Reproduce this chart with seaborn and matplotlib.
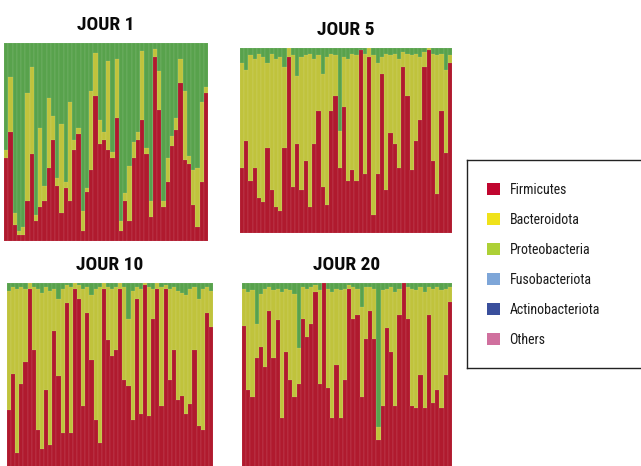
import numpy as np
import pandas as pd
import seaborn as sns
import matplotlib
matplotlib.use("Agg")
import matplotlib.pyplot as plt
from matplotlib.patches import Patch

sns.set_style("white")
plt.rcParams['font.family'] = ['Roboto Condensed', 'Roboto', 'DejaVu Sans']

# phyla shown in the legend
PHYLA = ["Firmicutes", "Bacteroidota", "Proteobacteria", "Fusobacteriota", "Actinobacteriota", "Others"]
LEGEND_COLORS = ["#c0062f", "#f0e21a", "#add036", "#7ea6d8", "#3a4f9c", "#d0709e"]
# colours as they appear in the bars (red / yellow / green layers)
BAR_COLORS = {"red": "#b01a2e", "yellow": "#c0c33c", "green": "#58a24c"}

# relative abundance (%) per sample, bottom -> top
jour1_red = [42, 55, 8, 3, 3, 20, 44, 10, 17, 20, 37, 51, 28, 14, 27, 20, 46, 54, 5, 25, 36, 73, 49, 51,
             46, 42, 62, 5, 20, 10, 42, 51, 61, 44, 12, 93, 66, 17, 30, 48, 56, 80, 41, 39, 18, 7, 30, 75]
jour1_yellow = [4, 28, 6, 2, 4, 55, 44, 3, 40, 8, 35, 12, 4, 45, 3, 50, 5, 3, 10, 2, 40, 22, 12, 4,
                45, 3, 30, 5, 4, 28, 8, 4, 35, 3, 8, 4, 20, 3, 12, 5, 6, 12, 35, 4, 18, 30, 40, 3]
jour1_green = [54, 17, 86, 95, 93, 25, 12, 87, 43, 72, 28, 37, 68, 41, 70, 30, 49, 43, 85, 73, 24, 5, 39, 45,
               9, 55, 8, 90, 76, 62, 50, 45, 4, 53, 80, 3, 14, 80, 58, 47, 38, 8, 24, 57, 64, 63, 30, 22]

jour5_red = [35, 50, 28, 35, 19, 17, 46, 23, 14, 12, 46, 95, 25, 48, 23, 39, 14, 48, 66, 25, 15, 66, 74, 35, 68,
             28, 34, 28, 99, 32, 95, 10, 32, 86, 23, 54, 48, 35, 90, 74, 34, 50, 61, 90, 99, 39, 21, 66, 43, 92]
jour5_yellow = [57, 38, 68, 59, 78, 78, 46, 74, 80, 83, 44, 5, 71, 37, 72, 57, 83, 46, 30, 61, 80, 31, 22, 20, 27,
                66, 63, 68, 0, 65, 5, 86, 60, 9, 74, 42, 49, 59, 8, 23, 62, 47, 34, 8, 1, 58, 75, 31, 45, 4]
jour5_green = [8, 12, 4, 6, 3, 5, 8, 3, 6, 5, 10, 0, 4, 15, 5, 4, 3, 6, 4, 14, 5, 3, 4, 45, 5,
               6, 3, 4, 1, 3, 0, 4, 8, 5, 3, 4, 3, 6, 2, 3, 4, 3, 5, 2, 0, 3, 4, 3, 12, 4]

jour10_red = [36, 54, 14, 49, 60, 97, 66, 26, 16, 46, 18, 76, 53, 24, 90, 24, 97, 92, 38, 85, 61, 31, 19, 97, 71,
              63, 66, 97, 51, 48, 31, 92, 34, 99, 33, 82, 97, 38, 97, 51, 66, 41, 43, 34, 39, 66, 28, 26, 85, 78]
jour10_yellow = [60, 44, 83, 49, 37, 3, 32, 71, 79, 52, 78, 21, 39, 73, 9, 74, 3, 7, 59, 13, 33, 66, 79, 3, 27,
                 34, 32, 3, 47, 34, 65, 6, 63, 1, 65, 15, 3, 60, 2, 46, 32, 55, 52, 60, 58, 32, 64, 71, 13, 18]
jour10_green = [4, 2, 3, 2, 3, 0, 2, 3, 5, 2, 4, 3, 8, 3, 1, 2, 0, 1, 3, 2, 6, 3, 2, 0, 2,
                3, 2, 0, 2, 18, 4, 2, 3, 0, 2, 3, 0, 2, 1, 3, 2, 4, 5, 6, 3, 2, 8, 3, 2, 4]

jour20_red = [77, 43, 39, 60, 66, 55, 85, 60, 80, 28, 63, 48, 39, 46, 81, 71, 78, 95, 46, 100, 44, 28, 56, 28, 48,
              97, 81, 83, 39, 70, 85, 70, 16, 34, 76, 63, 34, 83, 100, 81, 34, 33, 51, 33, 83, 36, 43, 33, 51, 90]
jour20_yellow = [20, 52, 57, 18, 28, 42, 13, 36, 17, 67, 34, 48, 55, 19, 17, 26, 20, 4, 50, 0, 53, 67, 41, 68, 49,
                 2, 17, 14, 48, 28, 13, 27, 7, 62, 21, 35, 61, 14, 0, 17, 63, 63, 47, 62, 15, 61, 55, 63, 46, 8]
jour20_green = [3, 5, 4, 22, 6, 3, 2, 4, 3, 5, 3, 4, 6, 35, 2, 3, 2, 1, 4, 0, 3, 5, 3, 4, 3,
                1, 2, 3, 13, 2, 2, 3, 77, 4, 3, 2, 5, 3, 0, 2, 3, 4, 2, 5, 2, 3, 2, 4, 3, 2]

W, H = 641, 466
fig = plt.figure(figsize=(W / 100, H / 100), dpi=100)
fig.patch.set_facecolor("white")

def px_axes(left, top, right, bottom):
    return fig.add_axes([left / W, 1 - bottom / H, (right - left) / W, (bottom - top) / H])

panels = [
    ("JOUR 1", (jour1_red, jour1_yellow, jour1_green), (4, 43, 208, 241)),
    ("JOUR 5", (jour5_red, jour5_yellow, jour5_green), (240, 48, 452, 233)),
    ("JOUR 10", (jour10_red, jour10_yellow, jour10_green), (7, 283, 213, 481)),
    ("JOUR 20", (jour20_red, jour20_yellow, jour20_green), (242, 283, 452, 470)),
]

for title, (red, yellow, green), box in panels:
    ax = px_axes(*box)
    df = pd.DataFrame({"sample": np.arange(len(red)), "red": red, "yellow": yellow, "green": green})
    df["c_yellow"] = df["red"] + df["yellow"]
    df["c_green"] = df["c_yellow"] + df["green"]
    kw = dict(x="sample", width=1.0, saturation=1, edgecolor=(1, 1, 1, 0.2), linewidth=0.3, ax=ax)
    sns.barplot(data=df, y="c_green", color=BAR_COLORS["green"], **kw)
    sns.barplot(data=df, y="c_yellow", color=BAR_COLORS["yellow"], **kw)
    sns.barplot(data=df, y="red", color=BAR_COLORS["red"], **kw)
    ax.set_xlim(-0.5, len(red) - 0.5)
    ax.set_ylim(0, 100)
    ax.axis("off")
    cx = (box[0] + box[2]) / 2 / W
    cy = 1 - (box[1] - 18) / H
    fig.text(cx, cy, title, ha="center", va="center", fontsize=14, fontweight="bold",
             color="#0a0a0a")

# legend box (runs off the right edge)
lax = px_axes(467, 160, 660, 368)
lax.set_xticks([]); lax.set_yticks([])
for s in lax.spines.values():
    s.set_color("#222222"); s.set_linewidth(1.0)
handles = [Patch(facecolor=c, edgecolor="none") for c in LEGEND_COLORS]
lax.legend(handles, PHYLA, loc="upper left", bbox_to_anchor=(0.04, 0.95), frameon=False,
           fontsize=10, handlelength=0.9, handleheight=0.9, handletextpad=0.7, labelspacing=1.15,
           labelcolor="#1a1a1a")

fig.savefig("out.png", dpi=100, facecolor="white")
